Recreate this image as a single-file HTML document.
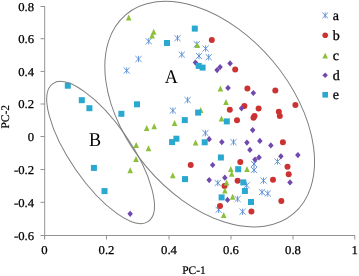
<!DOCTYPE html>
<html><head><meta charset="utf-8"><style>
html,body{margin:0;padding:0;background:#fff;}
body{width:359px;height:276px;overflow:hidden;}
svg{display:block;will-change:transform;}
text{font-family:"Liberation Serif",serif;fill:#000;text-rendering:geometricPrecision;}
</style></head><body>
<svg width="359" height="276" viewBox="0 0 359 276">

<g stroke="#939393" stroke-width="1" fill="none">
<path d="M44.7 6V239M44.7 235.5H355"/>
<path d="M40.5 6.5H44.7"/>
<path d="M40.5 38.7H44.7"/>
<path d="M40.5 71.4H44.7"/>
<path d="M40.5 104H44.7"/>
<path d="M40.5 136.5H44.7"/>
<path d="M40.5 169.5H44.7"/>
<path d="M40.5 202.3H44.7"/>
<path d="M40.5 235.5H44.7"/>
<path d="M44.5 235.5V239.5"/>
<path d="M106.5 235.5V239.5"/>
<path d="M169 235.5V239.5"/>
<path d="M231 235.5V239.5"/>
<path d="M293 235.5V239.5"/>
<path d="M354.8 235.5V239.5"/>
</g>
<g font-size="12" text-anchor="end" stroke="#000" stroke-width="0.25">
<text transform="translate(34.1 10.7) scale(1.06 1)">0.8</text>
<text transform="translate(34.1 42.9) scale(1.06 1)">0.6</text>
<text transform="translate(34.1 75.6) scale(1.06 1)">0.4</text>
<text transform="translate(34.1 108.2) scale(1.06 1)">0.2</text>
<text transform="translate(34.1 140.7) scale(1.06 1)">0</text>
<text transform="translate(34.1 173.7) scale(1.06 1)">-0.2</text>
<text transform="translate(34.1 206.5) scale(1.06 1)">-0.4</text>
<text transform="translate(34.1 239.7) scale(1.06 1)">-0.6</text>
</g><g font-size="12" text-anchor="middle" stroke="#000" stroke-width="0.25">
<text transform="translate(44.5 253.8) scale(1.06 1)">0</text>
<text transform="translate(106.5 253.8) scale(1.06 1)">0.2</text>
<text transform="translate(169 253.8) scale(1.06 1)">0.4</text>
<text transform="translate(231 253.8) scale(1.06 1)">0.6</text>
<text transform="translate(293 253.8) scale(1.06 1)">0.8</text>
<text transform="translate(354.8 253.8) scale(1.06 1)">1</text>
</g>
<text x="194" y="274" font-size="11.5" text-anchor="middle" stroke="#000" stroke-width="0.2">PC-1</text>
<text transform="translate(9.2 116.7) rotate(-90)" font-size="11.5" text-anchor="middle" stroke="#000" stroke-width="0.2">PC-2</text>
<g stroke="#4f86d4" stroke-width="0.85" fill="none"><path d="M148.7 38.0V44.4M145.6 38.2L151.8 44.2M151.8 38.2L145.6 44.2"/><path d="M177.5 35.0V41.4M174.4 35.2L180.6 41.2M180.6 35.2L174.4 41.2"/><path d="M138.5 55.8V62.2M135.4 56.0L141.6 62.0M141.6 56.0L135.4 62.0"/><path d="M126.7 67.3V73.7M123.6 67.5L129.8 73.5M129.8 67.5L123.6 73.5"/><path d="M181.8 51.4V57.8M178.7 51.6L184.9 57.6M184.9 51.6L178.7 57.6"/><path d="M196.8 41.0V47.4M193.7 41.2L199.9 47.2M199.9 41.2L193.7 47.2"/><path d="M205.6 45.3V51.7M202.5 45.5L208.7 51.5M208.7 45.5L202.5 51.5"/><path d="M199.0 52.8V59.2M195.9 53.0L202.1 59.0M202.1 53.0L195.9 59.0"/><path d="M208.7 54.0V60.4M205.6 54.2L211.8 60.2M211.8 54.2L205.6 60.2"/><path d="M187.6 96.8V103.2M184.5 97.0L190.7 103.0M190.7 97.0L184.5 103.0"/><path d="M172.9 107.4V113.8M169.8 107.6L176.0 113.6M176.0 107.6L169.8 113.6"/><path d="M205.4 129.9V136.3M202.3 130.1L208.5 136.1M208.5 130.1L202.3 136.1"/><path d="M233.5 138.9V145.3M230.4 139.1L236.6 145.1M236.6 139.1L230.4 145.1"/><path d="M217.8 179.8V186.2M214.7 180.0L220.9 186.0M220.9 180.0L214.7 186.0"/><path d="M254.0 160.8V167.2M250.9 161.0L257.1 167.0M257.1 161.0L250.9 167.0"/><path d="M254.0 166.8V173.2M250.9 167.0L257.1 173.0M257.1 167.0L250.9 173.0"/><path d="M277.5 158.3V164.7M274.4 158.5L280.6 164.5M280.6 158.5L274.4 164.5"/><path d="M263.5 177.4V183.8M260.4 177.6L266.6 183.6M266.6 177.6L260.4 183.6"/><path d="M246.6 182.1V188.5M243.5 182.3L249.7 188.3M249.7 182.3L243.5 188.3"/><path d="M262.0 189.0V195.4M258.9 189.2L265.1 195.2M265.1 189.2L258.9 195.2"/><path d="M267.8 190.3V196.7M264.7 190.5L270.9 196.5M270.9 190.5L264.7 196.5"/><path d="M237.6 195.8V202.2M234.5 196.0L240.7 202.0M240.7 196.0L234.5 202.0"/><path d="M218.6 206.6V213.0M215.5 206.8L221.7 212.8M221.7 206.8L215.5 212.8"/><path d="M242.6 208.5V214.9M239.5 208.7L245.7 214.7M245.7 208.7L239.5 214.7"/></g>
<g fill="#cd3232"><circle cx="211.8" cy="39.9" r="3"/><circle cx="235.2" cy="69.6" r="3"/><circle cx="247.4" cy="88.5" r="3"/><circle cx="275.3" cy="90.5" r="3"/><circle cx="244.4" cy="106.1" r="3"/><circle cx="258.6" cy="108.6" r="3"/><circle cx="229.8" cy="109.8" r="3"/><circle cx="278.8" cy="111.8" r="3"/><circle cx="279.8" cy="116.0" r="3"/><circle cx="254.5" cy="116.0" r="3"/><circle cx="253.5" cy="117.8" r="3"/><circle cx="237.0" cy="120.2" r="3"/><circle cx="295.4" cy="104.9" r="3"/><circle cx="282.9" cy="142.2" r="3"/><circle cx="287.5" cy="166.8" r="3"/><circle cx="288.7" cy="174.3" r="3"/><circle cx="240.3" cy="162.1" r="3"/><circle cx="190.7" cy="165.1" r="3"/><circle cx="237.6" cy="180.7" r="3"/><circle cx="224.5" cy="186.0" r="3"/><circle cx="273.0" cy="179.8" r="3"/><circle cx="281.3" cy="200.9" r="3"/><circle cx="220.0" cy="206.0" r="3"/><circle cx="251.4" cy="211.4" r="3"/></g>
<g fill="#8cc03a"><path d="M128.7 14.5L131.5 20.5L125.9 20.5Z"/><path d="M153.7 28.8L156.5 34.8L150.9 34.8Z"/><path d="M152.1 32.6L154.9 38.6L149.3 38.6Z"/><path d="M197.2 42.0L200.0 48.0L194.4 48.0Z"/><path d="M220.4 85.4L223.2 91.4L217.6 91.4Z"/><path d="M226.0 99.1L228.8 105.1L223.2 105.1Z"/><path d="M200.7 107.0L203.5 113.0L197.9 113.0Z"/><path d="M221.5 115.4L224.3 121.4L218.7 121.4Z"/><path d="M174.6 120.0L177.4 126.0L171.8 126.0Z"/><path d="M154.2 123.3L157.0 129.3L151.4 129.3Z"/><path d="M146.7 124.9L149.5 130.9L143.9 130.9Z"/><path d="M195.6 139.5L198.4 145.5L192.8 145.5Z"/><path d="M136.2 142.1L139.0 148.1L133.4 148.1Z"/><path d="M148.5 145.2L151.3 151.2L145.7 151.2Z"/><path d="M136.0 155.9L138.8 161.9L133.2 161.9Z"/><path d="M130.2 167.3L133.0 173.3L127.4 173.3Z"/><path d="M172.8 172.2L175.6 178.2L170.0 178.2Z"/><path d="M230.8 165.9L233.6 171.9L228.0 171.9Z"/><path d="M231.7 170.8L234.5 176.8L228.9 176.8Z"/><path d="M247.0 166.0L249.8 172.0L244.2 172.0Z"/><path d="M226.6 179.5L229.4 185.5L223.8 185.5Z"/><path d="M224.9 187.4L227.7 193.4L222.1 193.4Z"/><path d="M232.6 193.8L235.4 199.8L229.8 199.8Z"/><path d="M223.7 212.0L226.5 218.0L220.9 218.0Z"/></g>
<g fill="#7048ae"><path d="M195.4 59.5L198.2 62.6L195.4 65.7L192.7 62.6Z"/><path d="M217.1 67.0L219.8 70.1L217.1 73.2L214.3 70.1Z"/><path d="M220.1 64.0L222.8 67.1L220.1 70.2L217.3 67.1Z"/><path d="M230.1 60.3L232.8 63.4L230.1 66.5L227.3 63.4Z"/><path d="M228.0 84.8L230.8 87.9L228.0 91.0L225.2 87.9Z"/><path d="M253.3 89.9L256.1 93.0L253.3 96.1L250.6 93.0Z"/><path d="M241.5 105.2L244.2 108.3L241.5 111.4L238.8 108.3Z"/><path d="M252.7 127.0L255.4 130.1L252.7 133.2L249.9 130.1Z"/><path d="M209.2 136.1L211.9 139.2L209.2 142.3L206.4 139.2Z"/><path d="M221.8 139.0L224.6 142.1L221.8 145.2L219.1 142.1Z"/><path d="M246.9 139.5L249.7 142.6L246.9 145.7L244.2 142.6Z"/><path d="M259.9 137.8L262.6 140.9L259.9 144.0L257.1 140.9Z"/><path d="M249.9 146.8L252.7 149.9L249.9 153.0L247.2 149.9Z"/><path d="M270.8 142.3L273.6 145.4L270.8 148.5L268.1 145.4Z"/><path d="M280.9 153.2L283.6 156.3L280.9 159.4L278.1 156.3Z"/><path d="M297.9 152.0L300.6 155.1L297.9 158.2L295.1 155.1Z"/><path d="M212.7 161.9L215.4 165.0L212.7 168.1L209.9 165.0Z"/><path d="M255.0 156.5L257.8 159.6L255.0 162.7L252.2 159.6Z"/><path d="M259.0 154.3L261.8 157.4L259.0 160.5L256.2 157.4Z"/><path d="M209.2 177.0L211.9 180.1L209.2 183.2L206.4 180.1Z"/><path d="M224.8 174.6L227.6 177.7L224.8 180.8L222.1 177.7Z"/><path d="M227.5 196.8L230.2 199.9L227.5 203.0L224.8 199.9Z"/><path d="M290.0 179.3L292.8 182.4L290.0 185.5L287.2 182.4Z"/><path d="M130.2 210.7L132.9 213.8L130.2 216.9L127.4 213.8Z"/></g>
<g fill="#29a8d0"><rect x="64.8" y="82.7" width="6" height="6"/><rect x="78.8" y="97.2" width="6" height="6"/><rect x="86.4" y="105.2" width="6" height="6"/><rect x="90.9" y="164.9" width="6" height="6"/><rect x="101.5" y="188.1" width="6" height="6"/><rect x="118.4" y="110.8" width="6" height="6"/><rect x="134.0" y="101.3" width="6" height="6"/><rect x="164.0" y="40.0" width="6" height="6"/><rect x="191.8" y="25.6" width="6" height="6"/><rect x="195.7" y="62.9" width="6" height="6"/><rect x="199.6" y="64.6" width="6" height="6"/><rect x="195.1" y="109.6" width="6" height="6"/><rect x="181.8" y="117.1" width="6" height="6"/><rect x="173.4" y="135.7" width="6" height="6"/><rect x="169.1" y="139.1" width="6" height="6"/><rect x="223.8" y="118.4" width="6" height="6"/><rect x="201.7" y="139.3" width="6" height="6"/><rect x="217.9" y="154.5" width="6" height="6"/><rect x="182.0" y="176.1" width="6" height="6"/><rect x="235.2" y="166.2" width="6" height="6"/><rect x="240.3" y="179.4" width="6" height="6"/><rect x="241.9" y="188.0" width="6" height="6"/><rect x="218.6" y="194.4" width="6" height="6"/><rect x="248.0" y="199.0" width="6" height="6"/></g>
<g fill="none" stroke="#7e7e7e" stroke-width="1">
<ellipse cx="209.7" cy="114.1" rx="130.1" ry="82.4" transform="rotate(49.9 209.7 114.1)"/>
<ellipse cx="100.6" cy="152.5" rx="83.8" ry="30.2" transform="rotate(55.3 100.6 152.5)"/>
</g>
<text transform="translate(171.4 83) scale(0.93 1)" font-size="19.5" text-anchor="middle">A</text>
<text transform="translate(95 146.2) scale(0.93 1)" font-size="19.5" text-anchor="middle">B</text>
<g stroke="#4f86d4" stroke-width="0.85" fill="none"><path d="M325.2 12.4V18.4M322.4 12.6L328.0 18.2M328.0 12.6L322.4 18.2"/></g>
<g fill="#cd3232"><circle cx="325.2" cy="35.3" r="2.8"/></g>
<g fill="#8cc03a"><path d="M325.2 52.8L328.0 58.4L322.4 58.4Z"/></g>
<g fill="#7048ae"><path d="M325.2 72.4L327.9 75.2L325.2 78.0L322.4 75.2Z"/></g>
<g fill="#29a8d0"><rect x="322.4" y="92.0" width="5.6" height="5.6"/></g>
<g font-size="14" stroke="#000" stroke-width="0.3">
<text x="332.8" y="19.7">a</text>
<text x="332.8" y="39.6">b</text>
<text x="332.8" y="59.9">c</text>
<text x="332.8" y="79.5">d</text>
<text x="332.8" y="99.1">e</text>
</g>
</svg>
</body></html>
